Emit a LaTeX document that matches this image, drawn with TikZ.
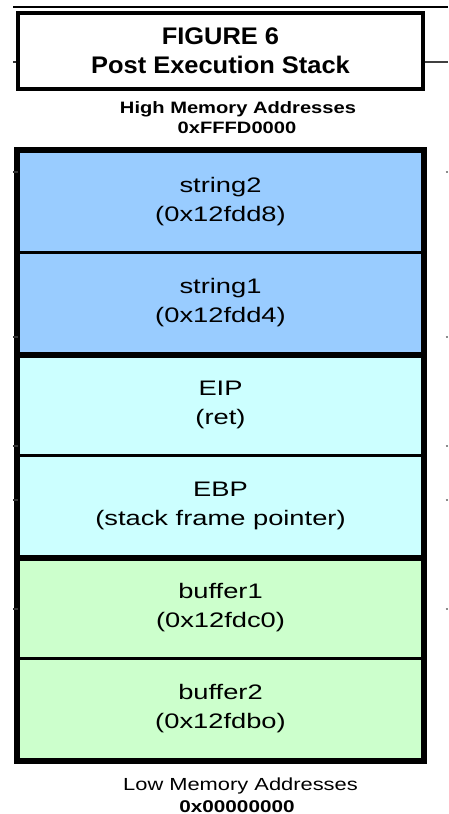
\documentclass[tikz,border=0pt]{standalone}
\usepackage{fontspec}
\setmainfont{Liberation Sans}
\newfontfamily\cellf[FakeStretch=1.3]{Liberation Sans}
\newfontfamily\titlef[FakeStretch=1.06]{Liberation Sans}
\newfontfamily\addrf[FakeStretch=1.22]{Liberation Sans}
\newfontfamily\lowf[FakeStretch=1.25]{Liberation Sans}
\definecolor{strblue}{HTML}{99CCFF}
\definecolor{regcyan}{HTML}{CCFFFF}
\definecolor{bufgreen}{HTML}{CCFFCC}
\tikzset{
  cell/.style={draw=black, line width=3.5pt, minimum width=405pt, minimum height=101.5pt,
    inner sep=0pt, align=center, font=\cellf\fontsize{21}{29}\selectfont},
  addr/.style={anchor=base, inner sep=0pt},
  tick/.style={line width=1.3pt, black!80},
  dot/.style={line width=1.2pt, black!45}
}
\begin{document}
\begin{tikzpicture}[x=1pt,y=-1pt]
\useasboundingbox (0,0) rectangle (448,814);
% top rule
\draw[line width=2pt] (13,7) -- (448,7);
% title box
\node[draw, line width=4pt, minimum width=405pt, minimum height=76pt, inner sep=0pt,
  align=center, font=\titlef\bfseries\fontsize{24}{29}\selectfont] (title) at (220.5,51)
  {FIGURE 6\\Post Execution Stack};
\coordinate (tl) at (13,62);
\coordinate (tr) at (448,62);
\draw[tick] (tl) -- (tl -| title.west);
\draw[line width=1.5pt, black!75] (tr -| title.east) -- (tr);
% high memory labels
\node[addr, font=\addrf\bfseries\fontsize{16.5}{20}\selectfont] (high) at (238,113) {High Memory Addresses};
\node[addr, font=\addrf\bfseries\fontsize{16.5}{20}\selectfont] (highv) at (237,133) {0xFFFD0000};
% stack cells
\node[cell, fill=strblue] (s2) at (220.5,201.5) {string2\\(0x12fdd8)};
\node[cell, fill=strblue] (s1) at (220.5,303) {string1\\(0x12fdd4)};
\node[cell, fill=regcyan] (eip) at (220.5,404.5) {EIP\\(ret)};
\node[cell, fill=regcyan] (ebp) at (220.5,506) {EBP\\(stack frame pointer)};
\node[cell, fill=bufgreen] (b1) at (220.5,607.5) {buffer1\\(0x12fdc0)};
\node[cell, fill=bufgreen] (b2) at (220.5,709) {buffer2\\(0x12fdbo)};
% heavier dividers and outer frame
\draw[line width=5pt] (s1.south west) -- (s1.south east);
\draw[line width=5.5pt] (ebp.south west) -- (ebp.south east);
\draw[line width=4.5pt] (s2.north west) rectangle (b2.south east);
% low memory labels
\node[addr, font=\lowf\fontsize{17.5}{20}\selectfont] (low) at (240.5,790) {Low Memory Addresses};
\node[addr, font=\addrf\bfseries\fontsize{17}{20}\selectfont] (lowv) at (237,812) {0x00000000};
% side ticks
\foreach \yy in {172,337,446,500,609} {
  \draw[tick] (13,\yy) -- (18,\yy);
  \draw[dot] (445.5,\yy) -- (447.5,\yy);
}
\end{tikzpicture}
\end{document}
